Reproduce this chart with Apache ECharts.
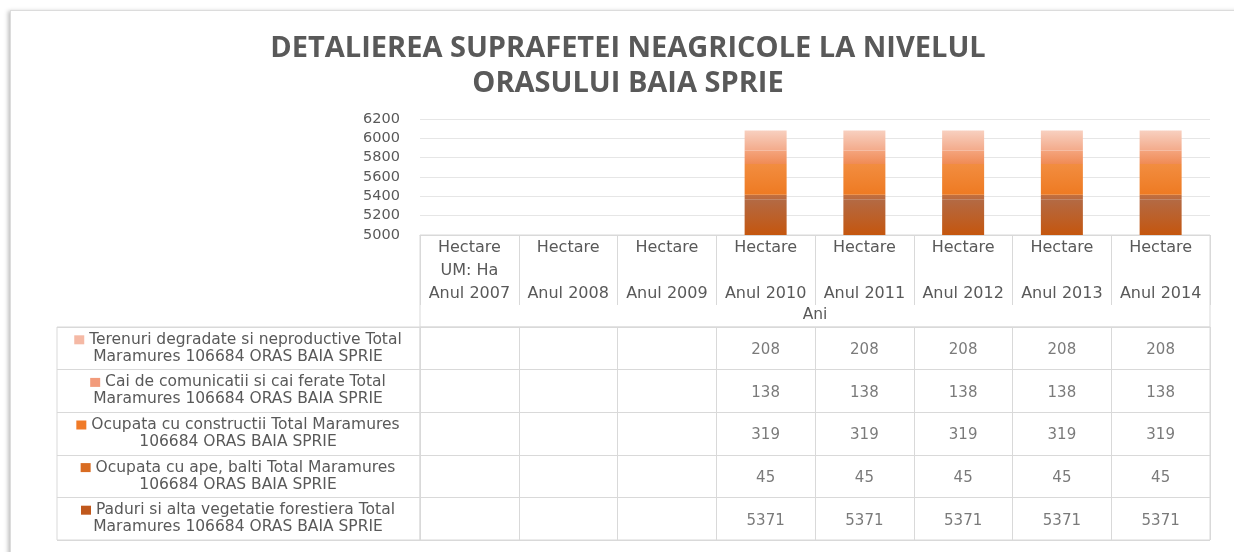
<!DOCTYPE html>
<html>
<head>
<meta charset="utf-8">
<title>Suprafata neagricola Baia Sprie</title>
<script src="https://cdn.jsdelivr.net/npm/echarts@6/dist/echarts.min.js"></script>
<style>
  html, body { margin: 0; padding: 0; background: #fff; overflow: hidden; }
  #frame { position: absolute; left: 10px; top: 10px; width: 1260px; height: 600px;
           border: 1px solid #dcdcdc; box-shadow: -2px 1px 4px rgba(0,0,0,.25); background: #fff; }
  #chart { position: absolute; left: 0; top: 0; width: 1234px; height: 552px; }
</style>
</head>
<body>
<div id="frame"></div>
<div id="chart"></div>
<script>
"use strict";

/* ── date ── */
const years = ["Anul 2007", "Anul 2008", "Anul 2009", "Anul 2010", "Anul 2011", "Anul 2012", "Anul 2013", "Anul 2014"];
const units = ["UM: Ha", "", "", "", "", "", "", ""];

// randurile tabelului, de sus in jos
const rowNames = [
  "Terenuri degradate si neproductive Total\nMaramures 106684 ORAS BAIA SPRIE",
  "Cai de comunicatii si cai ferate Total\nMaramures 106684 ORAS BAIA SPRIE",
  "Ocupata cu constructii Total Maramures\n106684 ORAS BAIA SPRIE",
  "Ocupata cu ape, balti Total Maramures\n106684 ORAS BAIA SPRIE",
  "Paduri si alta vegetatie forestiera Total\nMaramures 106684 ORAS BAIA SPRIE"
];

const terenuri    = [null, null, null, 208, 208, 208, 208, 208];
const caiFerate   = [null, null, null, 138, 138, 138, 138, 138];
const constructii = [null, null, null, 319, 319, 319, 319, 319];
const ape         = [null, null, null, 45, 45, 45, 45, 45];
const paduri      = [null, null, null, 5371, 5371, 5371, 5371, 5371];

const yTicks = { min: 5000, max: 6200, step: 200 };

/* ── stiluri ── */
const rowValues = [terenuri, caiFerate, constructii, ape, paduri];
const keyColors = ["#f5b9a5", "#f29b7b", "#f07a28", "#d96c22", "#c0581c"];
const barGrad = [
  ["#f8d0c0", "#f3aa8a"],
  ["#f4a47d", "#f08b55"],
  ["#f28d40", "#ee7a22"],
  ["#c27040", "#bb6a3e"],
  ["#b36a45", "#c5560e"]
];
const LINE = "#d9d9d9";
const TXT  = "#595959";
const FONT = "DejaVu Sans";

const grad = (c) => new echarts.graphic.LinearGradient(0, 0, 0, 1, [
  { offset: 0, color: c[0] }, { offset: 1, color: c[1] }
]);

const chart = echarts.init(document.getElementById("chart"));

// stiva: de jos (paduri) in sus (terenuri)
const barSeries = [4, 3, 2, 1, 0].map(r => ({
  name: rowNames[r],
  type: "bar",
  stack: "total",
  xAxisIndex: 0, yAxisIndex: 0,
  barWidth: 42,
  data: rowValues[r],
  itemStyle: { color: grad(barGrad[r]) }
}));

const cellData = [];
rowValues.forEach((vals, r) => {
  vals.forEach((v, i) => { if (v !== null) cellData.push([i, r, v]); });
});

const rich = { t: { fontFamily: FONT, fontSize: 15.5, color: TXT, lineHeight: 17 } };
keyColors.forEach((c, r) => {
  rich["k" + r] = { width: 10, height: 9, backgroundColor: c };
});

const hidden = { show: false };

chart.setOption({
  animation: false,
  title: {
    text: "DETALIEREA SUPRAFETEI NEAGRICOLE LA NIVELUL\nORASULUI BAIA SPRIE",
    left: 628, top: 31, padding: 0, textAlign: "center",
    textStyle: { fontFamily: "Open Sans", fontWeight: "bold", fontSize: 29, color: TXT, lineHeight: 35 }
  },
  grid: [
    { left: 420, top: 119, width: 790, height: 116 },
    { left: 420, top: 235, width: 790, height: 70 },
    { left: 420, top: 235, width: 790, height: 92, show: true, borderColor: LINE, borderWidth: 1 },
    { left: 57, top: 327, width: 363, height: 213, show: true, borderColor: LINE, borderWidth: 1 },
    { left: 420, top: 327, width: 790, height: 213, show: true, borderColor: LINE, borderWidth: 1 }
  ],
  xAxis: [
    {
      gridIndex: 0, type: "category", data: years,
      axisLine: { lineStyle: { color: LINE } }, axisTick: hidden,
      axisLabel: {
        interval: 0, margin: 1, lineHeight: 23,
        fontFamily: FONT, fontSize: 16, color: TXT,
        formatter: (v, i) => "Hectare\n" + units[i] + "\n" + v
      }
    },
    {
      gridIndex: 1, type: "category", data: years,
      axisLine: hidden, axisTick: hidden, axisLabel: hidden,
      splitLine: { show: true, interval: 0, lineStyle: { color: LINE } },
      name: "Ani", nameLocation: "middle", nameGap: 2,
      nameTextStyle: { fontFamily: FONT, fontSize: 15.5, color: TXT }
    },
    { gridIndex: 2, type: "category", data: years, show: false },
    { gridIndex: 3, type: "value", show: false },
    {
      gridIndex: 4, type: "category", data: years,
      axisLine: hidden, axisTick: hidden, axisLabel: hidden,
      splitLine: { show: true, interval: 0, lineStyle: { color: LINE } }
    }
  ],
  yAxis: [
    {
      gridIndex: 0, type: "value", min: yTicks.min, max: yTicks.max, interval: yTicks.step,
      axisLine: hidden, axisTick: hidden,
      axisLabel: { margin: 20, fontFamily: FONT, fontSize: 14.5, color: TXT, formatter: v => String(v) },
      splitLine: { lineStyle: { color: "#e6e6e6" } }
    },
    { gridIndex: 1, type: "value", show: false },
    { gridIndex: 2, type: "value", show: false },
    {
      gridIndex: 3, type: "category", data: rowNames, inverse: true,
      axisLine: hidden, axisTick: hidden,
      splitLine: { show: true, interval: 0, lineStyle: { color: LINE } },
      axisLabel: {
        interval: 0, align: "center", margin: -181,
        formatter: (v, i) => {
          const parts = v.split("\n");
          return "{k" + i + "|}{t| " + parts[0] + "}\n{t|" + parts[1] + "}";
        },
        rich: rich
      }
    },
    {
      gridIndex: 4, type: "category", data: rowNames, inverse: true,
      axisLine: hidden, axisTick: hidden, axisLabel: hidden,
      splitLine: { show: true, interval: 0, lineStyle: { color: LINE } }
    }
  ],
  series: barSeries.concat([{
    type: "scatter",
    xAxisIndex: 4, yAxisIndex: 4,
    symbolSize: 1,
    itemStyle: { color: "rgba(0,0,0,0)" },
    data: cellData,
    label: {
      show: true, position: "inside", offset: [0, 2],
      fontFamily: FONT, fontSize: 15, color: TXT,
      formatter: p => String(p.value[2])
    }
  }])
});

window.addEventListener("resize", () => chart.resize());
</script>
</body>
</html>
